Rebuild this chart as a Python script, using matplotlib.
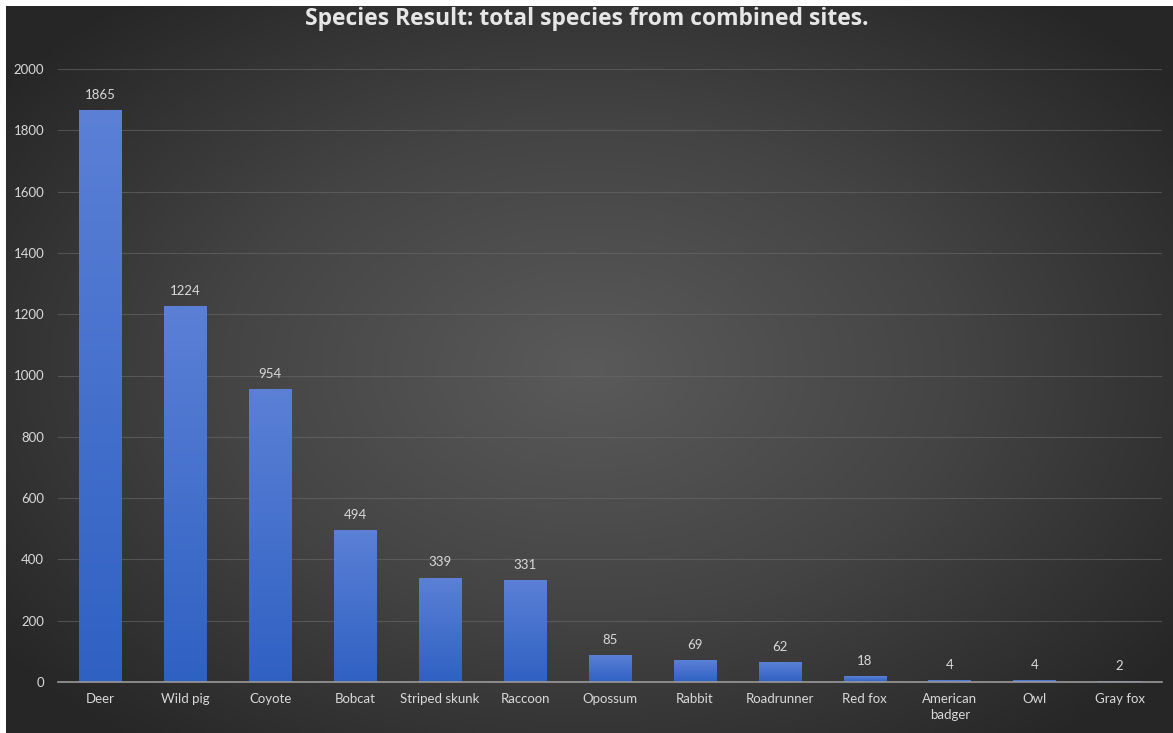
import matplotlib
matplotlib.use("Agg")
import matplotlib.pyplot as plt
import numpy as np
from matplotlib.colors import LinearSegmentedColormap

plt.rcParams['font.family'] = ['Lato', 'DejaVu Sans']

species = ['Deer', 'Wild pig', 'Coyote', 'Bobcat', 'Striped skunk', 'Raccoon',
           'Opossum', 'Rabbit', 'Roadrunner', 'Red fox', 'American\nbadger',
           'Owl', 'Gray fox']
counts = [1865, 1224, 954, 494, 339, 331, 85, 69, 62, 18, 4, 4, 2]
y_ticks = [0, 200, 400, 600, 800, 1000, 1200, 1400, 1600, 1800, 2000]

W, H = 1173, 733
text_col = '#d9d9d9'

fig = plt.figure(figsize=(W / 100, H / 100), dpi=100)
fig.patch.set_facecolor('white')

# radial dark-gray background (leaves a thin white strip at top/left)
bg = fig.add_axes([6 / W, 0, 1 - 6 / W, 1 - 6 / H])
bg.set_axis_off()
yy, xx = np.mgrid[-1:1:300j, -1:1:500j]
r = np.sqrt((xx * 0.95) ** 2 + (yy * 0.9) ** 2)
r = np.clip(r / 1.2, 0, 1)
bg_cmap = LinearSegmentedColormap.from_list('bg', ['#5a5a5a', '#444444', '#262626'])
bg.imshow(r, cmap=bg_cmap, aspect='auto', extent=(0, 1, 0, 1), vmin=0, vmax=1)
bg.set_xlim(0, 1)
bg.set_ylim(0, 1)

ax = fig.add_axes([58 / W, (H - 682) / H, (1162 - 58) / W, (682 - 69) / H])
ax.patch.set_alpha(0)

x = np.arange(len(species))
bars = ax.bar(x, counts, width=0.5, color='none', edgecolor='none', zorder=3)

bar_cmap = LinearSegmentedColormap.from_list('bar', ['#2f61c3', '#5b80d6'])
grad = np.linspace(0, 1, 256).reshape(-1, 1)
for b in bars:
    x0, w, h = b.get_x(), b.get_width(), b.get_height()
    ax.imshow(grad, cmap=bar_cmap, origin='lower', aspect='auto',
              extent=(x0, x0 + w, 0, h), zorder=3)

for xi, c in zip(x, counts):
    ax.annotate(str(c), (xi, c), xytext=(0, 7), textcoords='offset points',
                ha='center', va='bottom', color=text_col, fontsize=9.5, zorder=4)

ax.set_xlim(-0.5, len(species) - 0.5)
ax.set_ylim(0, 2000)
ax.set_yticks(y_ticks)
ax.set_xticks(x)
ax.set_xticklabels(species, color=text_col, fontsize=9.5, linespacing=1.4)
ax.tick_params(axis='y', colors=text_col, labelsize=9.5, length=0, pad=10)
ax.tick_params(axis='x', length=0, pad=8)
for lbl in ax.get_yticklabels():
    lbl.set_color(text_col)

ax.yaxis.grid(True, color='#6a6a6a', linewidth=0.8, alpha=0.6, zorder=0)
ax.set_axisbelow(True)
for side in ['top', 'right', 'left']:
    ax.spines[side].set_visible(False)
ax.spines['bottom'].set_color('#9a9a9a')
ax.spines['bottom'].set_linewidth(1.2)
ax.spines['bottom'].set_zorder(5)

fig.text(0.5, 1 - 19 / H, 'Species Result: total species from combined sites.',
         ha='center', va='center', color='#e6e6e6', fontsize=16.5,
         fontweight='bold', family=['Open Sans', 'DejaVu Sans'])

fig.savefig('out.png', dpi=100)
